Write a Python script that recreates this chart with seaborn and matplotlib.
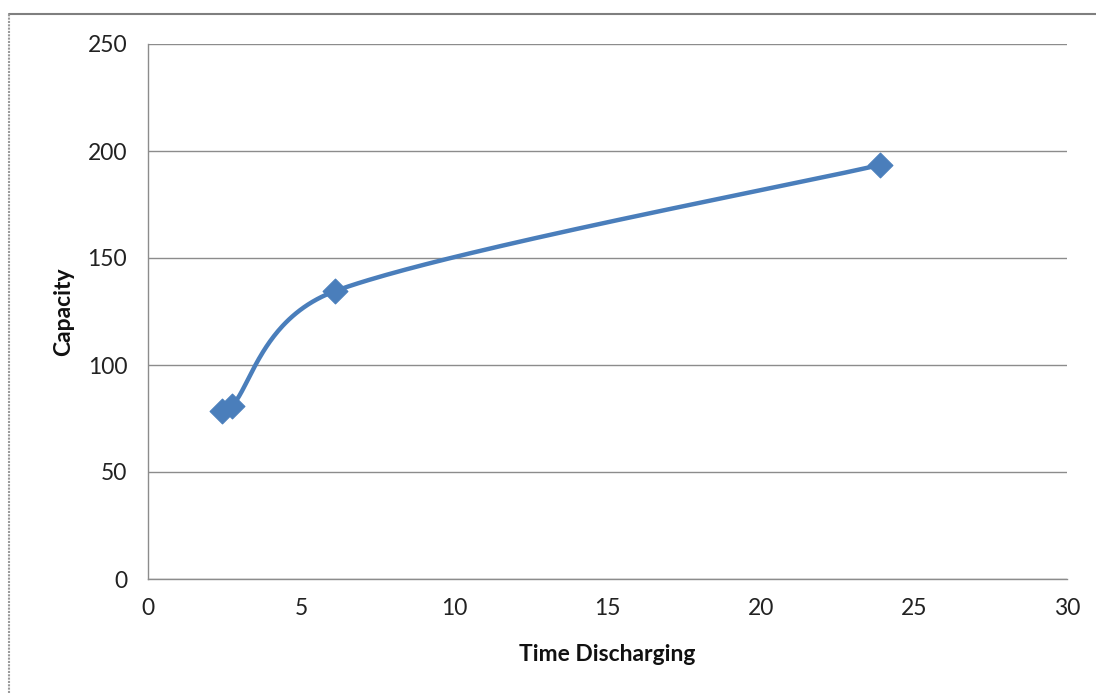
import numpy as np
import pandas as pd
import matplotlib
matplotlib.use("Agg")
import matplotlib.pyplot as plt
from matplotlib.lines import Line2D
import seaborn as sns

# Data
time_discharging = [2.4, 2.75, 6.1, 23.9]
capacity = [78.5, 81.0, 134.5, 193.5]
x_ticks = [0, 5, 10, 15, 20, 25, 30]
y_ticks = [0, 50, 100, 150, 200, 250]

sns.set_theme(style="white")
plt.rcParams['font.family'] = ['Lato', 'DejaVu Sans']

LINE_COLOR = "#4A7EBB"
GRID_COLOR = "#8C8C8C"


def excel_smooth(ax, xs, ys, n=80):
    """Excel-like 'smoothed line': Bezier segments with Catmull-Rom tangents,
    control arms limited to half the segment length (computed in screen space)."""
    disp = ax.transData.transform(np.column_stack([xs, ys]).astype(float))
    pts = np.vstack([disp[0], disp, disp[-1]])
    out = []
    t = np.linspace(0, 1, n)
    for i in range(1, len(pts) - 2):
        p0, p1, p2, p3 = pts[i - 1], pts[i], pts[i + 1], pts[i + 2]
        d12 = np.linalg.norm(p2 - p1)
        v1 = (p2 - p0) / 6.0
        v2 = (p3 - p1) / 6.0
        for v in (v1, v2):
            L = np.linalg.norm(v)
            if L > d12 / 2 and L > 0:
                v *= (d12 / 2) / L
        c1 = p1 + v1
        c2 = p2 - v2
        seg = ((1 - t) ** 3)[:, None] * p1 + (3 * (1 - t) ** 2 * t)[:, None] * c1 \
            + (3 * (1 - t) * t ** 2)[:, None] * c2 + (t ** 3)[:, None] * p2
        out.append(seg if i == 1 else seg[1:])
    return ax.transData.inverted().transform(np.vstack(out))


fig = plt.figure(figsize=(10.96, 6.93), dpi=100)
ax = fig.add_axes([148 / 1096, 1 - 579 / 693, (1067 - 148) / 1096, (579 - 44) / 693])
ax.set_xlim(0, 30)
ax.set_ylim(0, 250)

curve = excel_smooth(ax, time_discharging, capacity)
curve_df = pd.DataFrame({"x": curve[:, 0], "y": curve[:, 1]})
pts_df = pd.DataFrame({"x": time_discharging, "y": capacity})

sns.lineplot(data=curve_df, x="x", y="y", sort=False, ax=ax, color=LINE_COLOR,
             linewidth=3.2, zorder=3)
sns.scatterplot(data=pts_df, x="x", y="y", ax=ax, marker="D", s=160,
                color=LINE_COLOR, edgecolor=LINE_COLOR, linewidth=0.8, zorder=4)

ax.set_xlim(0, 30)
ax.set_ylim(0, 250)
ax.set_xticks(x_ticks)
ax.set_yticks(y_ticks)
ax.set_xticklabels([str(v) for v in x_ticks])
ax.set_yticklabels([str(v) for v in y_ticks])

ax.yaxis.grid(True, color=GRID_COLOR, linewidth=1.0)
ax.xaxis.grid(False)
ax.set_axisbelow(True)

for side in ["top", "right"]:
    ax.spines[side].set_visible(False)
for side in ["left", "bottom"]:
    ax.spines[side].set_color(GRID_COLOR)
    ax.spines[side].set_linewidth(1.0)

ax.tick_params(axis="both", which="major", direction="out", length=6, width=1.0,
               color=GRID_COLOR, labelsize=16.5, labelcolor="#222222")
ax.tick_params(axis="x", pad=8)
ax.tick_params(axis="y", pad=9)

ax.set_xlabel("Time Discharging", fontsize=16.5, fontweight="bold", color="#111111", labelpad=18)
ax.set_ylabel("Capacity", fontsize=16.5, fontweight="bold", color="#111111", labelpad=10)

# outer chart-area frame (open at right and bottom, as cropped in the reference)
fig.add_artist(Line2D([9 / 1096, 1.0], [1 - 14 / 693, 1 - 14 / 693], transform=fig.transFigure,
                      color="#7F7F7F", linewidth=1.5))
fig.add_artist(Line2D([9 / 1096, 9 / 1096], [0.0, 1 - 14 / 693], transform=fig.transFigure,
                      color="#9A9A9A", linewidth=1.5, linestyle=(0, (1, 0.6))))

fig.savefig("out.png", dpi=100, facecolor="white")
